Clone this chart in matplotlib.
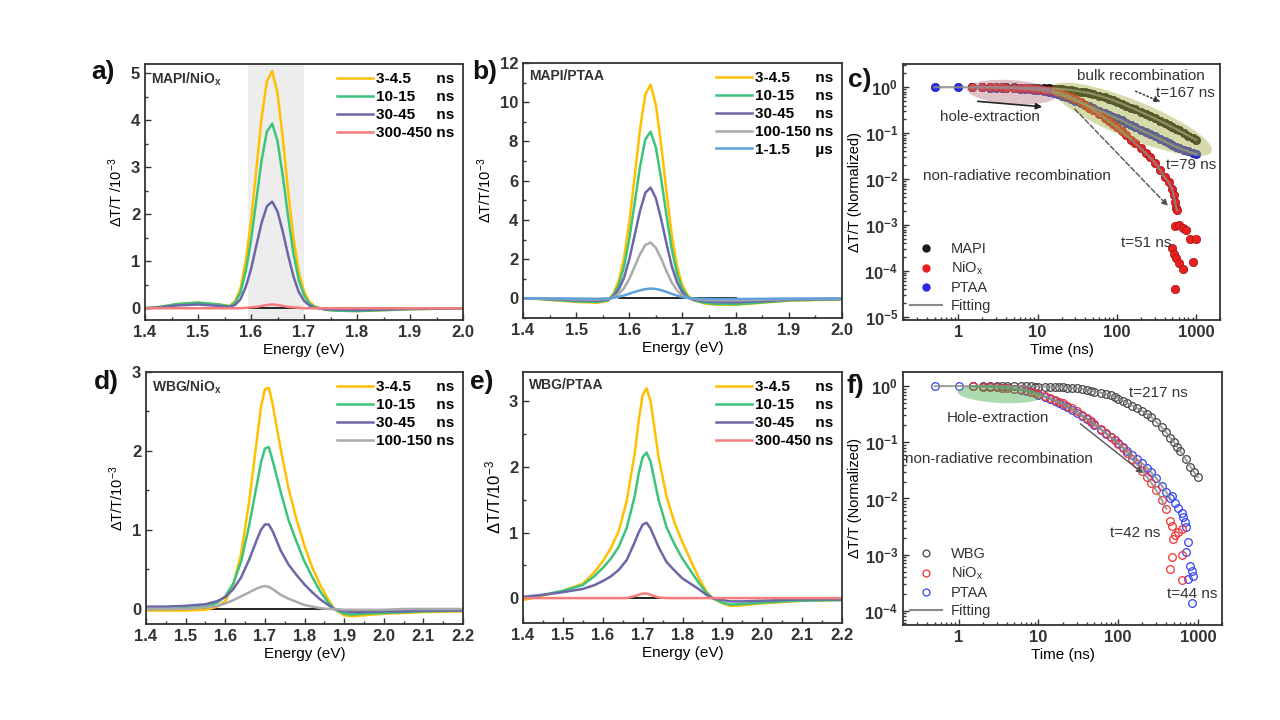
import numpy as np
import matplotlib
matplotlib.use('Agg')
import matplotlib.pyplot as plt
import matplotlib.transforms as mtransforms
from matplotlib.patches import Ellipse
from matplotlib.lines import Line2D
from matplotlib.ticker import MultipleLocator, LogLocator, NullFormatter

plt.rcParams['font.family'] = ['Liberation Sans', 'DejaVu Sans']
plt.rcParams['font.weight'] = 'bold'
plt.rcParams['mathtext.default'] = 'regular'

# ---------------- dados espectrais ----------------
E_ab = [1.40, 1.43, 1.46, 1.50, 1.54, 1.56, 1.57, 1.58, 1.59, 1.60, 1.61, 1.62, 1.63, 1.64,
        1.65, 1.66, 1.67, 1.68, 1.69, 1.70, 1.71, 1.72, 1.74, 1.76, 1.80, 1.85, 1.90, 2.00]

a_3ns = [0.0, 0.03, 0.09, 0.12, 0.08, 0.05, 0.15, 0.42, 1.00, 1.85, 2.95, 4.05, 4.83, 5.05,
         4.58, 3.62, 2.50, 1.50, 0.79, 0.36, 0.14, 0.04, -0.03, -0.05, -0.06, -0.04, -0.02, 0.0]
a_10ns = [0.0, 0.03, 0.09, 0.12, 0.08, 0.04, 0.12, 0.33, 0.78, 1.44, 2.30, 3.15, 3.76, 3.93,
          3.56, 2.82, 1.95, 1.17, 0.61, 0.28, 0.10, 0.03, -0.03, -0.05, -0.06, -0.04, -0.02, 0.0]
a_30ns = [0.0, 0.02, 0.06, 0.08, 0.05, 0.03, 0.07, 0.19, 0.45, 0.83, 1.33, 1.82, 2.17, 2.27,
          2.06, 1.63, 1.13, 0.68, 0.35, 0.16, 0.06, 0.01, -0.02, -0.03, -0.04, -0.03, -0.01, 0.0]
a_300ns = [0.0, 0.0, 0.0, 0.0, 0.0, 0.0, 0.0, 0.0, 0.01, 0.02, 0.03, 0.05, 0.07, 0.08,
           0.07, 0.05, 0.03, 0.02, 0.01, 0.0, 0.0, 0.0, 0.0, 0.0, 0.0, 0.0, 0.0, 0.0]

b_3ns = [0.0, -0.03, -0.10, -0.18, -0.22, -0.12, 0.25, 0.90, 2.05, 3.90, 6.20, 8.60, 10.40, 10.90,
         9.85, 7.80, 5.40, 3.20, 1.60, 0.65, 0.15, -0.08, -0.25, -0.32, -0.33, -0.22, -0.12, -0.05]
b_10ns = [0.0, -0.02, -0.08, -0.15, -0.18, -0.10, 0.18, 0.68, 1.60, 3.05, 4.85, 6.70, 8.10, 8.50,
          7.68, 6.08, 4.20, 2.48, 1.22, 0.48, 0.08, -0.08, -0.22, -0.28, -0.30, -0.20, -0.10, -0.04]
b_30ns = [0.0, -0.02, -0.05, -0.10, -0.12, -0.07, 0.10, 0.45, 1.05, 2.00, 3.22, 4.45, 5.38, 5.65,
          5.10, 4.02, 2.78, 1.62, 0.80, 0.30, 0.04, -0.06, -0.15, -0.19, -0.20, -0.14, -0.07, -0.03]
b_100ns = [0.0, -0.01, -0.03, -0.05, -0.06, -0.03, 0.05, 0.22, 0.52, 1.00, 1.62, 2.25, 2.72, 2.85,
           2.57, 2.02, 1.38, 0.80, 0.40, 0.14, 0.02, -0.03, -0.08, -0.10, -0.10, -0.07, -0.04, -0.02]
b_1us = [0.0, 0.0, 0.0, -0.01, -0.02, 0.0, 0.03, 0.08, 0.15, 0.24, 0.33, 0.41, 0.47, 0.50,
         0.48, 0.42, 0.33, 0.23, 0.14, 0.07, 0.02, 0.0, -0.02, -0.03, -0.03, -0.02, -0.01, 0.0]

E_de = [1.40, 1.45, 1.50, 1.55, 1.58, 1.60, 1.62, 1.64, 1.66, 1.68, 1.69, 1.70, 1.71, 1.72, 1.74,
        1.76, 1.78, 1.80, 1.82, 1.84, 1.86, 1.875, 1.90, 1.92, 1.95, 2.00, 2.05, 2.10, 2.20]

d_3ns = [-0.02, -0.02, -0.02, -0.01, 0.03, 0.10, 0.30, 0.70, 1.35, 2.15, 2.55, 2.78, 2.80, 2.58, 2.02,
         1.52, 1.13, 0.80, 0.52, 0.30, 0.12, 0.0, -0.08, -0.09, -0.08, -0.06, -0.05, -0.04, -0.03]
d_10ns = [0.0, 0.0, 0.01, 0.03, 0.08, 0.16, 0.32, 0.60, 1.05, 1.58, 1.85, 2.03, 2.05, 1.87, 1.48,
          1.12, 0.85, 0.60, 0.40, 0.22, 0.08, 0.0, -0.06, -0.07, -0.06, -0.05, -0.04, -0.03, -0.02]
d_30ns = [0.03, 0.03, 0.04, 0.06, 0.10, 0.15, 0.25, 0.40, 0.62, 0.88, 1.00, 1.07, 1.07, 0.98, 0.74,
          0.56, 0.43, 0.31, 0.21, 0.12, 0.05, 0.0, -0.03, -0.04, -0.04, -0.03, -0.03, -0.02, -0.02]
d_100ns = [0.0, 0.0, 0.0, 0.02, 0.04, 0.07, 0.11, 0.16, 0.21, 0.26, 0.28, 0.29, 0.28, 0.25, 0.18,
           0.13, 0.09, 0.05, 0.03, 0.01, 0.0, 0.0, -0.01, -0.01, -0.01, -0.01, 0.0, 0.0, 0.0]

e_3ns = [-0.03, 0.04, 0.11, 0.22, 0.40, 0.56, 0.76, 1.02, 1.48, 2.20, 2.70, 3.10, 3.20, 3.00, 2.15,
         1.55, 1.15, 0.85, 0.58, 0.32, 0.10, 0.0, -0.08, -0.12, -0.11, -0.08, -0.06, -0.04, -0.03]
e_10ns = [0.0, 0.05, 0.11, 0.20, 0.34, 0.46, 0.60, 0.78, 1.07, 1.55, 1.90, 2.15, 2.22, 2.08, 1.50,
          1.08, 0.82, 0.60, 0.42, 0.24, 0.08, 0.0, -0.07, -0.10, -0.09, -0.07, -0.05, -0.04, -0.03]
e_30ns = [0.02, 0.05, 0.09, 0.14, 0.20, 0.26, 0.33, 0.43, 0.58, 0.85, 1.00, 1.12, 1.15, 1.06, 0.78,
          0.55, 0.42, 0.30, 0.22, 0.14, 0.05, 0.0, -0.03, -0.05, -0.05, -0.04, -0.03, -0.02, -0.02]
e_300ns = [0.0, 0.0, 0.0, 0.0, 0.0, 0.0, 0.0, 0.0, 0.0, 0.03, 0.05, 0.07, 0.07, 0.05, 0.01,
           0.0, 0.0, 0.0, 0.0, 0.0, 0.0, 0.0, 0.0, 0.0, 0.0, 0.0, 0.0, 0.0, 0.0]

# linhas de base pretas (y = 0)
a_base = [1.42, 1.73]
b_base = [1.58, 1.80]
d_base = [1.40, 1.88]
e_base = [1.64, 2.08]

lab_a = ['3-4.5      ns', '10-15     ns', '30-45     ns', '300-450 ns']
lab_b = ['3-4.5      ns', '10-15     ns', '30-45     ns', '100-150 ns', '1-1.5      µs']
lab_d = ['3-4.5      ns', '10-15     ns', '30-45     ns', '100-150 ns']
lab_e = ['3-4.5      ns', '10-15     ns', '30-45     ns', '300-450 ns']

# ---------------- dados cinéticos ----------------
t_main = [1.5, 2, 2.5, 3, 3.5, 4, 5, 6, 7, 8, 9, 10, 12, 14, 16, 18, 20, 23, 26, 30, 35, 40, 45, 50,
          60, 70, 80, 90, 100, 115, 130, 150, 170, 200, 230, 260, 300, 350, 400, 450, 500, 550, 600,
          700, 800, 900, 1000]
t_ptaa_c = [0.5, 1] + t_main

c_mapi = [1.0, 1.0, 1.0, 1.0, 0.99, 0.99, 0.99, 0.98, 0.98, 0.97, 0.97, 0.96, 0.95, 0.94, 0.93, 0.92,
          0.91, 0.89, 0.87, 0.84, 0.80, 0.77, 0.74, 0.71, 0.65, 0.60, 0.56, 0.52, 0.48, 0.44, 0.40,
          0.36, 0.33, 0.29, 0.26, 0.235, 0.21, 0.185, 0.165, 0.148, 0.135, 0.124, 0.115, 0.1, 0.088,
          0.079, 0.072]
c_ptaa = [1.0, 1.0, 0.99, 0.99, 0.98, 0.98, 0.97, 0.96, 0.95, 0.93, 0.92, 0.90, 0.88, 0.86, 0.82,
          0.78, 0.74, 0.70, 0.66, 0.61, 0.56, 0.50, 0.46, 0.42, 0.39, 0.36, 0.31, 0.28, 0.25, 0.23,
          0.21, 0.19, 0.17, 0.15, 0.135, 0.118, 0.105, 0.095, 0.085, 0.075, 0.067, 0.06, 0.055,
          0.051, 0.048, 0.043, 0.04, 0.037, 0.035]
t_niox_c = [1.5, 2, 2.5, 3, 3.5, 4, 5, 6, 7, 8, 9, 10, 12, 14, 16, 18, 20, 23, 26, 30, 35, 40, 45,
            50, 60, 70, 80, 90, 100, 115, 130, 150, 170, 200, 230, 260, 300, 350, 400, 450, 500,
            520, 540, 560, 580]
c_niox = [1.0, 1.0, 1.0, 0.99, 0.99, 0.98, 0.97, 0.96, 0.95, 0.94, 0.92, 0.91, 0.88, 0.85, 0.82,
          0.78, 0.74, 0.68, 0.62, 0.55, 0.47, 0.41, 0.36, 0.32, 0.26, 0.215, 0.18, 0.155, 0.135,
          0.11, 0.09, 0.072, 0.06, 0.047, 0.037, 0.03, 0.023, 0.016, 0.011, 0.0085, 0.006, 0.0045,
          0.0032, 0.0024, 0.0021]
c_tail_t = [538, 611, 686, 755, 832, 503, 528, 554, 611, 686, 538, 990, 916]
c_tail = [9.5e-4, 1.0e-3, 8.7e-4, 7.8e-4, 4.9e-4, 3.2e-4, 2.4e-4, 1.9e-4, 1.5e-4, 1.1e-4, 4.0e-5,
          4.9e-4, 1.55e-4]

f_wbg = [1.0, 1.0, 1.0, 1.0, 1.0, 1.0, 0.99, 0.99, 0.99, 0.99, 0.98, 0.98, 0.98, 0.97, 0.97, 0.96,
         0.95, 0.94, 0.93, 0.91, 0.89, 0.86, 0.83, 0.80, 0.76, 0.72, 0.68, 0.64, 0.60, 0.55, 0.50,
         0.45, 0.41, 0.36, 0.32, 0.28, 0.23, 0.185, 0.15, 0.12, 0.10, 0.083, 0.07, 0.05, 0.037,
         0.029, 0.024]
t_niox_f = [1.5, 2, 2.5, 3, 3.5, 4, 5, 6, 7, 8, 9, 10, 12, 14, 16, 18, 20, 23, 26, 30, 35, 40, 45,
            50, 60, 70, 80, 90, 100, 115, 130, 150, 170, 200, 230, 260, 300, 350, 400]
f_niox = [0.99, 0.98, 0.97, 0.96, 0.94, 0.93, 0.90, 0.87, 0.84, 0.80, 0.76, 0.72, 0.66, 0.61, 0.57,
          0.53, 0.50, 0.45, 0.41, 0.36, 0.31, 0.27, 0.24, 0.215, 0.175, 0.148, 0.125, 0.108, 0.095,
          0.078, 0.064, 0.05, 0.041, 0.031, 0.024, 0.019, 0.014, 0.0095, 0.0065]
t_ptaa_f = [0.5, 1, 1.5, 2, 2.5, 3, 3.5, 4, 5, 6, 7, 8, 9, 10, 12, 14, 16, 18, 20, 23, 26, 30, 35,
            40, 45, 50, 60, 70, 80, 90, 100, 115, 130, 150, 170, 200, 230, 260, 300, 350, 400, 450]
f_ptaa = [1.0, 1.0, 0.99, 0.98, 0.97, 0.95, 0.94, 0.92, 0.89, 0.86, 0.82, 0.78, 0.74, 0.70, 0.63,
          0.58, 0.54, 0.50, 0.46, 0.42, 0.38, 0.33, 0.29, 0.255, 0.228, 0.205, 0.168, 0.142, 0.122,
          0.108, 0.096, 0.082, 0.071, 0.06, 0.051, 0.042, 0.035, 0.029, 0.023, 0.017, 0.013, 0.01]
f_niox_tail_t = [444, 466, 480, 511, 565, 622, 466, 444, 622, 622]
f_niox_tail = [0.004, 0.0033, 0.0019, 0.0022, 0.0025, 0.0029, 0.0009, 0.00055, 0.001, 0.00035]
f_ptaa_tail_t = [466, 511, 565, 622, 650, 680, 715, 750, 715, 790, 830, 750, 870, 830]
f_ptaa_tail = [0.011, 0.0083, 0.0069, 0.0054, 0.0047, 0.0038, 0.0031, 0.0017, 0.0011, 0.00063,
               0.00052, 0.00037, 0.00042, 0.00014]

# ---------------- cores ----------------
YEL = '#FFC000'
GRN = '#3CC47C'
PUR = '#6C68A8'
RED = '#F47C7C'
GRY = '#AAAAAA'
BLU = '#5FA0DA'
INK = '#333333'

fig = plt.figure(figsize=(12.8, 7.2), dpi=100)


def box(l, t, r, b):
    return fig.add_axes([l / 1280, 1 - b / 720, (r - l) / 1280, (b - t) / 720])


def estilo(ax):
    for s in ax.spines.values():
        s.set_linewidth(1.3)
        s.set_color(INK)
    ax.tick_params(which='both', direction='in', top=False, right=False,
                   colors=INK, labelsize=12, width=1)
    ax.tick_params(which='major', length=4)
    ax.tick_params(which='minor', length=2)


def espectro(ax, E, curvas, cores, rotulos, base, xlim, ylim, ymaj, ymin_step, titulo, ylab):
    ax.plot(base, [0, 0], color='#111111', lw=1.3, zorder=1)
    for y, c, l in zip(curvas, cores, rotulos):
        ax.plot(E, y, color=c, lw=1.8, label=l, zorder=2)
    ax.set_xlim(*xlim)
    ax.set_ylim(*ylim)
    ax.xaxis.set_minor_locator(MultipleLocator(0.05))
    ax.yaxis.set_major_locator(MultipleLocator(ymaj))
    ax.yaxis.set_minor_locator(MultipleLocator(ymin_step))
    ax.set_xlabel('Energy (eV)', fontsize=11, labelpad=2)
    ax.set_ylabel(ylab, fontsize=10.5, labelpad=4)
    ax.text(0.02, 0.975, titulo, transform=ax.transAxes, ha='left', va='top',
            fontsize=10, color=INK)
    ax.legend(loc='upper right', frameon=False, prop={'size': 11, 'weight': 'bold'},
              handlelength=2.4, handletextpad=0.2, labelspacing=0.25, borderaxespad=0.15)
    estilo(ax)


# ---------------- a) ----------------
ax_a = box(145, 64, 463, 320)
ax_a.axvspan(1.595, 1.70, color='#EDEDED', zorder=0, lw=0)
espectro(ax_a, E_ab, [a_3ns, a_10ns, a_30ns, a_300ns], [YEL, GRN, PUR, RED], lab_a, a_base,
         (1.4, 2.0), (-0.25, 5.2), 1, 0.5, 'MAPI/NiO$_x$', 'ΔT/T /10$^{-3}$')
ax_a.set_xticks([1.4, 1.5, 1.6, 1.7, 1.8, 1.9, 2.0])

# ---------------- b) ----------------
ax_b = box(523, 63, 842, 318)
espectro(ax_b, E_ab, [b_3ns, b_10ns, b_30ns, b_100ns, b_1us], [YEL, GRN, PUR, GRY, BLU], lab_b,
         b_base, (1.4, 2.0), (-1.0, 12.0), 2, 1, 'MAPI/PTAA', 'ΔT/T/10$^{-3}$')
ax_b.set_xticks([1.4, 1.5, 1.6, 1.7, 1.8, 1.9, 2.0])

# ---------------- d) ----------------
ax_d = box(146, 372, 463, 624)
espectro(ax_d, E_de, [d_3ns, d_10ns, d_30ns, d_100ns], [YEL, GRN, PUR, GRY], lab_d, d_base,
         (1.4, 2.2), (-0.19, 3.0), 1, 0.5, 'WBG/NiO$_x$', 'ΔT/T/10$^{-3}$')
ax_d.set_xticks([1.4, 1.5, 1.6, 1.7, 1.8, 1.9, 2.0, 2.1, 2.2])

# ---------------- e) ----------------
ax_e = box(523, 372, 842, 623)
espectro(ax_e, E_de, [e_3ns, e_10ns, e_30ns, e_300ns], [YEL, GRN, PUR, RED], lab_e, e_base,
         (1.4, 2.2), (-0.38, 3.45), 1, 0.5, 'WBG/PTAA', 'ΔT/T/10$^{-3}$')
ax_e.set_xticks([1.4, 1.5, 1.6, 1.7, 1.8, 1.9, 2.0, 2.1, 2.2])
ax_e.yaxis.label.set_size(12)


def eixo_log(ax, ylim, yt):
    ax.set_xscale('log')
    ax.set_yscale('log')
    ax.set_xlim(0.2, 2000)
    ax.set_ylim(*ylim)
    ax.set_xticks([1, 10, 100, 1000], ['1', '10', '100', '1000'])
    ax.xaxis.set_minor_locator(LogLocator(base=10, subs=np.arange(2, 10), numticks=20))
    ax.xaxis.set_minor_formatter(NullFormatter())
    ax.set_yticks(yt)
    ax.yaxis.set_minor_locator(LogLocator(base=10, subs=np.arange(2, 10), numticks=20))
    ax.yaxis.set_minor_formatter(NullFormatter())
    ax.set_xlabel('Time (ns)', fontsize=11, labelpad=2)
    ax.set_ylabel('ΔT/T (Normalized)', fontsize=10.5, labelpad=2)
    estilo(ax)


def elipse(ax, cx, cy, w, h, ang, cor, alpha):
    tr = fig.dpi_scale_trans + mtransforms.ScaledTranslation(cx, cy, ax.transAxes)
    ax.add_patch(Ellipse((0, 0), w, h, angle=ang, transform=tr, facecolor=cor,
                         edgecolor='none', alpha=alpha, zorder=6))


# ---------------- c) ----------------
ax_c = box(903, 64, 1220, 320)
KC, RC, BC = '#1A1A1A', '#E8201F', '#2A2AE8'
ax_c.plot(t_main, c_mapi, 'o', ms=6, mfc=KC, mec='#000000', mew=0.5, zorder=3)
ax_c.plot(t_ptaa_c, c_ptaa, 'o', ms=6, mfc=BC, mec='#1515A0', mew=0.5, zorder=3)
ax_c.plot(t_niox_c, c_niox, 'o', ms=6, mfc=RC, mec='#A01010', mew=0.5, zorder=4)
ax_c.plot(c_tail_t, c_tail, 'o', ms=6, mfc=RC, mec='#A01010', mew=0.5, zorder=4)
for tt, yy in [(t_main, c_mapi), (t_ptaa_c, c_ptaa), (t_niox_c, c_niox)]:
    ax_c.plot(tt, yy, '-', color='#8A8A8A', lw=1.6, alpha=0.85, zorder=5)
eixo_log(ax_c, (8.6e-6, 3.2), [1e-5, 1e-4, 1e-3, 1e-2, 1e-1, 1])
elipse(ax_c, 0.344, 0.89, 0.90, 0.24, -4, '#B97A86', 0.45)
elipse(ax_c, 0.722, 0.784, 1.72, 0.38, -22, '#A7AE45', 0.45)

txt = dict(transform=ax_c.transAxes, fontsize=11, color=INK, fontweight='normal', zorder=7)
ax_c.text(0.751, 0.953, 'bulk recombination', ha='center', va='center', **txt)
ax_c.text(0.89, 0.887, 't=167 ns', ha='center', va='center', **txt)
ax_c.text(0.274, 0.793, 'hole-extraction', ha='center', va='center', **txt)
ax_c.text(0.36, 0.5625, 'non-radiative recombination', ha='center', va='center', **txt)
ax_c.text(0.91, 0.605, 't=79 ns', ha='center', va='center', **txt)
ax_c.text(0.767, 0.30, 't=51 ns', ha='center', va='center', **txt)
ax_c.annotate('', xy=(0.82, 0.848), xytext=(0.726, 0.898), xycoords='axes fraction',
              arrowprops=dict(arrowstyle='-|>', color='#333333', lw=1.1, ls=':', mutation_scale=9),
              zorder=7)
ax_c.annotate('', xy=(0.842, 0.4375), xytext=(0.536, 0.832), xycoords='axes fraction',
              arrowprops=dict(arrowstyle='-|>', color='#555555', lw=1.0, ls='--', mutation_scale=9),
              zorder=7)
ax_c.annotate('', xy=(0.448, 0.832), xytext=(0.227, 0.855), xycoords='axes fraction',
              arrowprops=dict(arrowstyle='-|>', color='#222222', lw=1.2, mutation_scale=9),
              zorder=7)
hc = [Line2D([], [], ls='none', marker='o', ms=5, mfc=KC, mec=KC),
      Line2D([], [], ls='none', marker='o', ms=5, mfc=RC, mec=RC),
      Line2D([], [], ls='none', marker='o', ms=5, mfc=BC, mec=BC),
      Line2D([], [], color='#8A8A8A', lw=1.5)]
ax_c.legend(hc, ['MAPI', 'NiO$_x$', 'PTAA', 'Fitting'], loc='lower left', frameon=False,
            prop={'size': 10.5, 'weight': 'normal'}, handlelength=2.2, handletextpad=0.6,
            labelspacing=0.25, borderaxespad=0.1, labelcolor=INK)

# ---------------- f) ----------------
ax_f = box(903, 372, 1222, 625)
KF, RF, BF = '#444444', '#EE3333', '#3344EE'
ax_f.plot(t_main, f_wbg, 'o', ms=5.5, mfc='none', mec=KF, mew=0.9, zorder=3)
ax_f.plot(t_ptaa_f, f_ptaa, 'o', ms=5.5, mfc='none', mec=BF, mew=0.9, zorder=3)
ax_f.plot(f_ptaa_tail_t, f_ptaa_tail, 'o', ms=5.5, mfc='none', mec=BF, mew=0.9, zorder=3)
ax_f.plot(t_niox_f, f_niox, 'o', ms=5.5, mfc='none', mec=RF, mew=0.9, zorder=4)
ax_f.plot(f_niox_tail_t, f_niox_tail, 'o', ms=5.5, mfc='none', mec=RF, mew=0.9, zorder=4)
for tt, yy in [(t_main, f_wbg), (t_ptaa_f, f_ptaa), (t_niox_f, f_niox)]:
    ax_f.plot(tt, yy, '-', color='#8A8A8A', lw=1.5, alpha=0.8, zorder=5)
eixo_log(ax_f, (5.6e-5, 1.78), [1e-4, 1e-3, 1e-2, 1e-1, 1])
elipse(ax_f, 0.304, 0.913, 0.85, 0.18, -3, '#4CAF50', 0.45)

txt = dict(transform=ax_f.transAxes, fontsize=11, color=INK, fontweight='normal', zorder=7)
ax_f.text(0.80, 0.917, 't=217 ns', ha='center', va='center', **txt)
ax_f.text(0.298, 0.818, 'Hole-extraction', ha='center', va='center', **txt)
ax_f.text(0.006, 0.656, 'non-radiative recombination', ha='left', va='center', **txt)
ax_f.text(0.727, 0.364, 't=42 ns', ha='center', va='center', **txt)
ax_f.text(0.906, 0.123, 't=44 ns', ha='center', va='center', **txt)
ax_f.annotate('', xy=(0.759, 0.593), xytext=(0.549, 0.802), xycoords='axes fraction',
              arrowprops=dict(arrowstyle='-|>', color='#555555', lw=1.0, mutation_scale=9),
              zorder=7)
hf = [Line2D([], [], ls='none', marker='o', ms=5, mfc='none', mec=KF, mew=0.9),
      Line2D([], [], ls='none', marker='o', ms=5, mfc='none', mec=RF, mew=0.9),
      Line2D([], [], ls='none', marker='o', ms=5, mfc='none', mec=BF, mew=0.9),
      Line2D([], [], color='#8A8A8A', lw=1.5)]
ax_f.legend(hf, ['WBG', 'NiO$_x$', 'PTAA', 'Fitting'], loc='lower left', frameon=False,
            prop={'size': 10.5, 'weight': 'normal'}, handlelength=2.2, handletextpad=0.6,
            labelspacing=0.25, borderaxespad=0.1, labelcolor=INK)

# ---------------- rótulos dos painéis ----------------
for s, x, y in [('a)', 103, 72), ('b)', 485, 72), ('c)', 860, 80),
                ('d)', 106, 382), ('e)', 482, 382), ('f)', 855, 386)]:
    fig.text(x / 1280, 1 - y / 720, s, fontsize=19, ha='center', va='center', color='#111111')

fig.savefig('out.png', dpi=100, facecolor='white')
